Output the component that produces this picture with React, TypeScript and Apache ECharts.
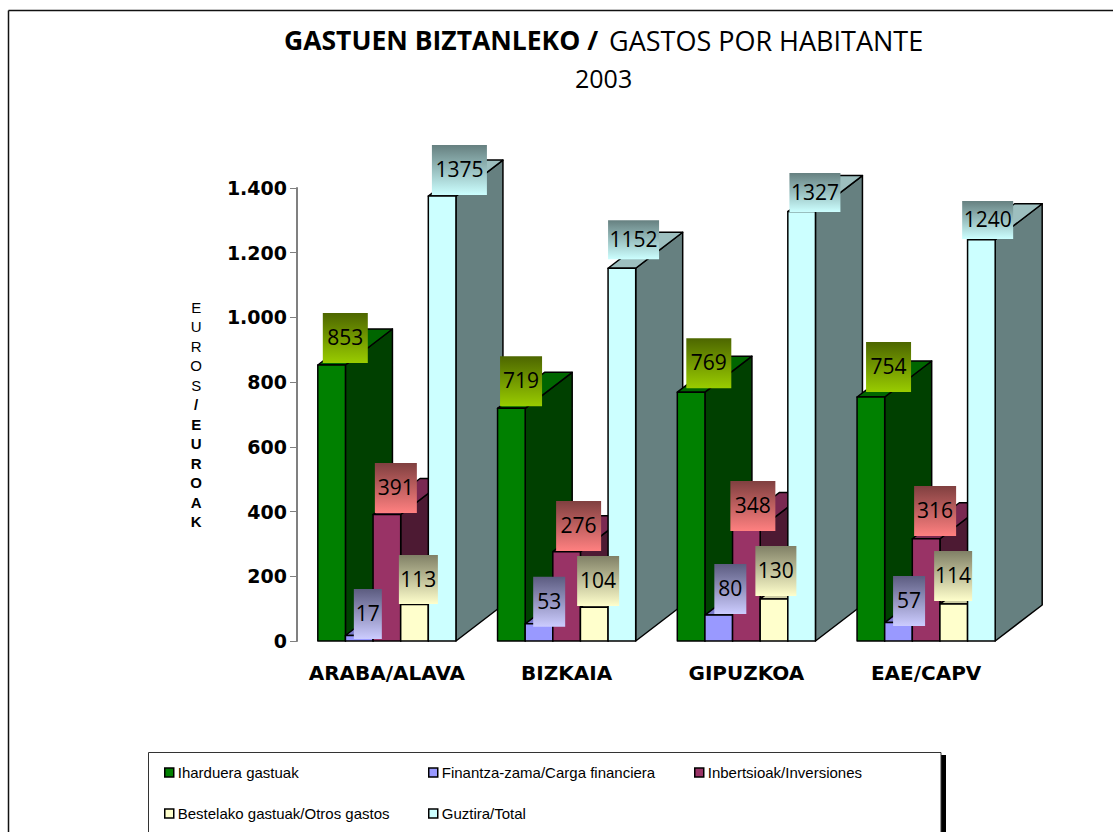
import React, { useEffect, useRef } from "react";
import * as echarts from "echarts";

const categories = ["ARABA/ALAVA", "BIZKAIA", "GIPUZKOA", "EAE/CAPV"];
const seriesNames = [
  "Iharduera gastuak",
  "Finantza-zama/Carga financiera",
  "Inbertsioak/Inversiones",
  "Bestelako gastuak/Otros gastos",
  "Guztira/Total",
];
const iharduera = [853, 719, 769, 754];
const finantza = [17, 53, 80, 57];
const inbertsioak = [391, 276, 348, 316];
const bestelako = [113, 104, 130, 114];
const guztira = [1375, 1152, 1327, 1240];
const allValues = [iharduera, finantza, inbertsioak, bestelako, guztira];

// Face colours per series: front, side, top, label gradient top, label gradient bottom
const faces = [
  ["#008000", "#004000", "#006600", "#4d6600", "#99cc00"],
  ["#9999ff", "#4d4d80", "#7a7acc", "#5c5c80", "#ccccff"],
  ["#993366", "#4d1a33", "#7a2952", "#804040", "#ff8080"],
  ["#ffffcc", "#808066", "#cccca3", "#808066", "#ffffcc"],
  ["#ccffff", "#668080", "#9dbfbf", "#668080", "#ccffff"],
];

// Label box layout relative to the bar's front face: [dx, dy of bottom, width, height]
const labelBoxes = [
  [[5, -2, 45, 50], [2.5, -2, 42, 50], [9, -4, 45, 50], [9, -5, 45, 50]],
  [[8.4, 3.5, 28, 50], [8, 3, 32, 50], [9.4, -1, 32, 50], [8.4, 3.4, 32, 50]],
  [[1.8, -1.5, 42, 50], [3.3, -0.7, 45, 50], [-2.2, 2.6, 45, 50], [1.8, -2.7, 42, 50]],
  [[-1.8, -0.4, 39, 49], [-3.3, -1.3, 42, 50], [-4.8, -2.9, 41, 50], [-5.8, -3.1, 38, 50]],
  [[3.6, -1, 55, 50], [0, -9, 51, 39], [1.6, 0.4, 51, 39], [-5.4, -0.8, 51, 38]],
];

const DEPTH_X = 47;
const DEPTH_Y = 36;
const BAR_RATIO = 0.1537;
const EDGE = { stroke: "#000", lineWidth: 1.5, lineJoin: "round" };

function makeRenderItem(seriesIdx: number) {
  return (_params: any, api: any) => {
    const cat = api.value(0);
    const val = api.value(1);
    const band = api.size([1, 0])[0];
    const w = band * BAR_RATIO;
    const [cx, top] = api.coord([cat, val]);
    const bottom = api.coord([cat, 0])[1];
    const x = cx - 2.5 * w + seriesIdx * w;
    const base = (cat + 1) * 100 + seriesIdx * 10;
    const f = faces[seriesIdx];
    const [dx, dy, bw, bh] = labelBoxes[seriesIdx][cat];
    const by = top + dy - bh;
    const bx = x + dx;
    return {
      type: "group",
      children: [
        {
          type: "polygon",
          z2: base,
          shape: { points: [[x + w, bottom], [x + w + DEPTH_X, bottom - DEPTH_Y], [x + w + DEPTH_X, top - DEPTH_Y], [x + w, top]] },
          style: { fill: f[1], ...EDGE },
        },
        {
          type: "polygon",
          z2: base + 1,
          shape: { points: [[x, top], [x + w, top], [x + w + DEPTH_X, top - DEPTH_Y], [x + DEPTH_X, top - DEPTH_Y]] },
          style: { fill: f[2], ...EDGE },
        },
        {
          type: "rect",
          z2: base + 2,
          shape: { x, y: top, width: w, height: bottom - top },
          style: { fill: f[0], ...EDGE },
        },
        {
          type: "rect",
          z2: 5000,
          shape: { x: bx, y: by, width: bw, height: bh },
          style: {
            fill: {
              type: "linear", x: 0, y: 0, x2: 0, y2: 1,
              colorStops: [{ offset: 0, color: f[3] }, { offset: 1, color: f[4] }],
            },
          },
        },
        {
          type: "text",
          z2: 5001,
          style: {
            text: String(val),
            x: bx + bw / 2,
            y: by + bh / 2 - 1,
            align: "center",
            verticalAlign: "middle",
            fill: "#000",
            font: '21px "Open Sans"',
          },
        },
      ],
    };
  };
}

const axisNameLines = ["E", "U", "R", "O", "S"];
const axisNameBold = ["/", "E", "U", "R", "O", "A", "K"];

const legendLayout = [
  { left: 159, top: 760 },
  { left: 423, top: 760 },
  { left: 689, top: 760 },
  { left: 159, top: 801 },
  { left: 423, top: 801 },
];

export default function App() {
  const ref = useRef<HTMLDivElement>(null);
  useEffect(() => {
    const chart = echarts.init(ref.current!, null, { renderer: "svg" });
    chart.setOption({
      animation: false,
      backgroundColor: "#fff",
      title: [
        { text: "GASTUEN BIZTANLEKO /", left: 279, top: 21, textStyle: { fontFamily: "Open Sans", fontWeight: "bold", fontSize: 26.5, color: "#000" } },
        { text: "GASTOS POR HABITANTE", left: 604, top: 22, textStyle: { fontFamily: "Open Sans", fontWeight: "normal", fontSize: 27, color: "#000" } },
        { text: "2003", left: 570, top: 60, textStyle: { fontFamily: "Open Sans", fontWeight: "normal", fontSize: 25, color: "#000" } },
      ],
      grid: { left: 297, top: 188, width: 719, height: 453, containLabel: false },
      xAxis: {
        type: "category",
        data: categories,
        axisLine: { show: false },
        axisTick: { show: false },
        axisLabel: { interval: 0, hideOverlap: false, margin: 22, color: "#000", fontFamily: "DejaVu Sans", fontWeight: "bold", fontSize: 20 },
      },
      yAxis: {
        type: "value",
        min: 0,
        max: 1400,
        interval: 200,
        splitLine: { show: false },
        axisLine: { show: true, lineStyle: { color: "#808080", width: 2 } },
        axisTick: { show: true, length: 7, lineStyle: { color: "#808080", width: 1 } },
        axisLabel: {
          margin: 10,
          color: "#000",
          fontFamily: "DejaVu Sans",
          fontWeight: "bold",
          fontSize: 19,
          formatter: (v: number) => String(v).replace(/\B(?=(\d{3})+$)/g, "."),
        },
        name: [...axisNameLines.map((c) => `{r|${c}}`), ...axisNameBold.map((c) => `{b|${c}}`)].join("\n"),
        nameLocation: "middle",
        nameRotate: 0,
        nameGap: 95,
        nameTextStyle: {
          rich: {
            r: { fontFamily: "Liberation Sans", fontSize: 15, lineHeight: 19.5, color: "#000", align: "center" },
            b: { fontFamily: "Liberation Sans", fontWeight: "bold", fontSize: 15, lineHeight: 19.5, color: "#000", align: "center" },
          },
        },
      },
      legend: seriesNames.map((name, i) => ({
        data: [name],
        left: legendLayout[i].left,
        top: legendLayout[i].top,
        icon: "rect",
        itemWidth: 9,
        itemHeight: 9,
        itemGap: 5,
        selectedMode: false,
        itemStyle: { borderColor: "#000", borderWidth: 1.5 },
        textStyle: { fontFamily: "Liberation Sans", fontSize: 15, color: "#000", padding: [0, 0, 0, -1] },
      })),
      series: allValues.map((vals, i) => ({
        type: "custom",
        name: seriesNames[i],
        silent: true,
        data: vals.map((v, c) => [c, v]),
        encode: { x: 0, y: 1 },
        itemStyle: { color: faces[i][0] },
        renderItem: makeRenderItem(i),
      })),
      graphic: [
        { type: "line", shape: { x1: 8.5, y1: 10.5, x2: 1113, y2: 10.5 }, style: { stroke: "#111", lineWidth: 1.5 }, z: 1 },
        { type: "line", shape: { x1: 8.5, y1: 10.5, x2: 8.5, y2: 832 }, style: { stroke: "#111", lineWidth: 1.5 }, z: 1 },
        { type: "rect", shape: { x: 941, y: 755, width: 5, height: 90 }, style: { fill: "#000" }, z: 1 },
        { type: "rect", shape: { x: 148.5, y: 752.5, width: 792.5, height: 100 }, style: { fill: "#fff", stroke: "#333", lineWidth: 1 }, z: 1 },
      ],
    });
    return () => chart.dispose();
  }, []);
  return <div ref={ref} style={{ position: "fixed", left: 0, top: 0, width: 1113, height: 832 }} />;
}
